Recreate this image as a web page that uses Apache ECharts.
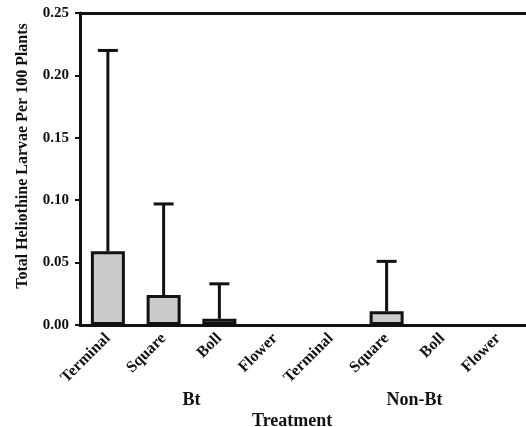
<!DOCTYPE html>
<html>
<head>
<meta charset="utf-8">
<script src="https://cdn.jsdelivr.net/npm/echarts@6/dist/echarts.min.js"></script>
<style>html,body{margin:0;padding:0;background:#fff}#c{width:526px;height:427px}</style>
</head>
<body>
<div id="c"></div>
<script>
const categories = ['Terminal','Square','Boll','Flower','Terminal','Square','Boll','Flower'];
const groups = ['Bt','Non-Bt'];
const means = [0.059, 0.024, 0.005, 0, 0, 0.011, 0, 0];
const upper = [0.22, 0.097, 0.033, null, null, 0.051, null, null];
const yTicks = [0, 0.05, 0.10, 0.15, 0.20, 0.25];

const FONT = '"Liberation Serif", "Times New Roman", serif';
const chart = echarts.init(document.getElementById('c'));
const errData = [];
means.forEach((m, i) => { if (upper[i] !== null) errData.push([i, m, upper[i]]); });
const barData = means.map(v => v === 0 ? { value: v, itemStyle: { opacity: 0 } } : v);

chart.setOption({
  animation: false,
  backgroundColor: '#fff',
  title: {
    text: 'Treatment', left: 247, top: 407,
    textStyle: { fontFamily: FONT, fontWeight: 'bold', fontSize: 18, color: '#111' }
  },
  grid: { left: 80, right: -4, top: 13, bottom: 102, containLabel: false },
  xAxis: [
    {
      type: 'category', data: categories, position: 'bottom',
      axisLine: { lineStyle: { color: '#111', width: 3 } },
      axisTick: { alignWithLabel: true, length: 5, lineStyle: { color: '#111', width: 2 } },
      axisLabel: { rotate: 45, margin: 11, interval: 0, fontFamily: FONT, fontWeight: 'bold', fontSize: 16, color: '#111' }
    },
    {
      type: 'category', data: groups, position: 'bottom', offset: 0,
      axisLine: { show: false }, axisTick: { show: false },
      axisLabel: { margin: 66, fontFamily: FONT, fontWeight: 'bold', fontSize: 18, color: '#111' }
    },
    {
      type: 'category', data: categories, position: 'top',
      axisLine: { lineStyle: { color: '#111', width: 3 } },
      axisTick: { show: false }, axisLabel: { show: false }
    }
  ],
  yAxis: {
    type: 'value', min: 0, max: 0.25, interval: 0.05,
    name: 'Total Heliothine Larvae Per 100 Plants',
    nameLocation: 'middle', nameGap: 49,
    nameTextStyle: { fontFamily: FONT, fontWeight: 'bold', fontSize: 16, color: '#111', padding: [0, 0, 0, 26] },
    axisLine: { show: true, lineStyle: { color: '#111', width: 3 } },
    axisTick: { show: true, length: 5, lineStyle: { color: '#111', width: 2 } },
    splitLine: { show: false },
    axisLabel: { margin: 11, fontFamily: FONT, fontWeight: 'bold', fontSize: 15, color: '#111',
      formatter: v => v.toFixed(2) }
  },
  series: [
    {
      type: 'bar', data: barData, barWidth: 34, xAxisIndex: 0,
      itemStyle: { color: '#cbcbcb', borderColor: '#111', borderWidth: 3 },
      z: 2
    },
    {
      type: 'custom', xAxisIndex: 0, data: errData,
      encode: { x: 0, y: [1, 2] },
      z: 4,
      renderItem: function (params, api) {
        const i = api.value(0);
        const p0 = api.coord([i, api.value(1)]);
        const p1 = api.coord([i, api.value(2)]);
        const hw = 10;
        const st = { stroke: '#111', lineWidth: 3 };
        return {
          type: 'group',
          children: [
            { type: 'line', shape: { x1: p0[0], y1: p0[1], x2: p1[0], y2: p1[1] }, style: st },
            { type: 'line', shape: { x1: p1[0] - hw, y1: p1[1], x2: p1[0] + hw, y2: p1[1] }, style: st }
          ]
        };
      }
    }
  ]
});
</script>
</body>
</html>
